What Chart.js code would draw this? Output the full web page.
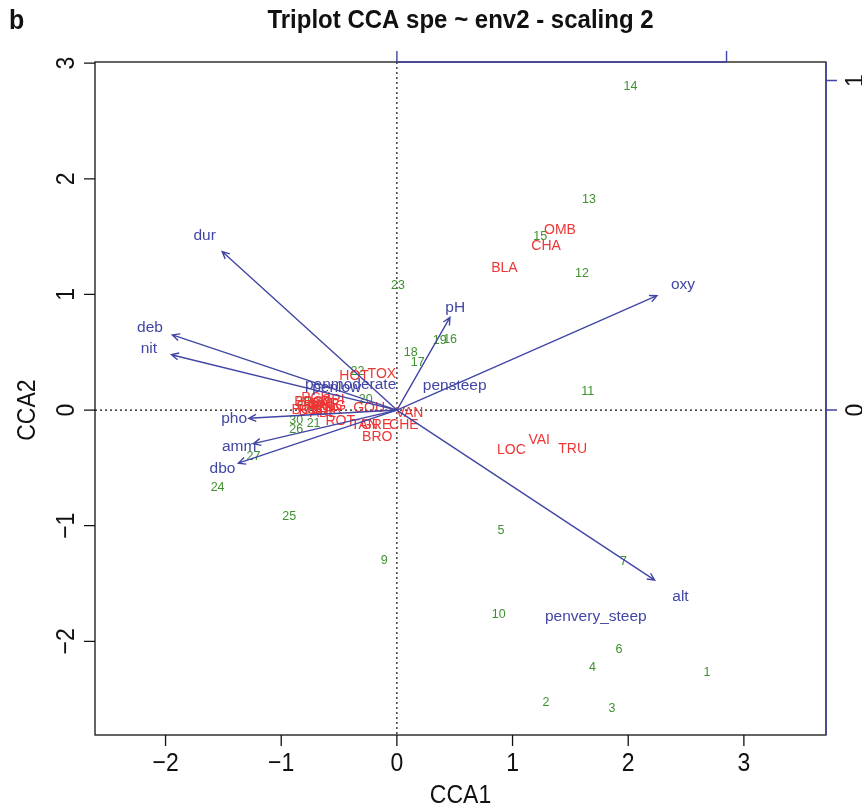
<!DOCTYPE html>
<html>
<head>
<meta charset="utf-8">
<script src="https://cdn.jsdelivr.net/npm/chart.js@4/dist/chart.umd.min.js"></script>
<style>
  html, body { margin: 0; padding: 0; background: #fff; }
  #wrap { width: 862px; height: 812px; position: relative; }
</style>
</head>
<body>
<div id="wrap"><canvas id="cca"></canvas></div>
<script>
// ------- Data read off the triplot -------
// sites (CCA1, CCA2) — site 8 is not in the data set
const siteNames = ['1','2','3','4','5','6','7','9','10','11','12','13','14','15','16',
                   '17','18','19','20','21','22','23','24','25','26','27','28','29','30'];
const siteX = [2.68, 1.29, 1.86, 1.69, 0.90, 1.92, 1.96, -0.11, 0.88, 1.65, 1.60, 1.66, 2.02, 1.24, 0.46,
               0.18, 0.12, 0.37, -0.27, -0.72, -0.34, 0.01, -1.55, -0.93, -0.87, -1.24, -0.81, -0.70, -0.87];
const siteY = [-2.27, -2.53, -2.58, -2.23, -1.04, -2.07, -1.31, -1.30, -1.77, 0.16, 1.18, 1.82, 2.80, 1.50, 0.61,
               0.41, 0.50, 0.60, 0.09, -0.12, 0.33, 1.08, -0.67, -0.92, -0.17, -0.40, 0.07, 0.04, -0.09];

// species
const speciesNames = ['CHA','TRU','VAI','LOC','OMB','BLA','HOT','TOX','VAN','CHE','BAR','SPI','GOU','BRO',
                      'PER','BOU','PSO','ROT','CAR','TAN','BCO','PCH','GRE','GAR','BBO','ABL','ANG'];
const speciesX = [1.29, 1.52, 1.23, 0.99, 1.41, 0.93, -0.37, -0.13, 0.11, 0.06, -0.62, -0.55, -0.24, -0.17,
                  -0.66, -0.72, -0.68, -0.49, -0.74, -0.28, -0.78, -0.70, -0.18, -0.60, -0.76, -0.64, -0.57];
const speciesY = [1.42, -0.34, -0.26, -0.35, 1.56, 1.23, 0.29, 0.31, -0.03, -0.13, 0.05, 0.09, 0.02, -0.23,
                  0.02, -0.01, 0.06, -0.10, 0.03, -0.13, 0.00, 0.10, -0.13, 0.00, 0.07, -0.03, 0.03];

// factor centroids (pen)
const centroidNames = ['penlow','penmoderate','pensteep','penvery_steep'];
const centroidX = [-0.52, -0.40, 0.50, 1.72];
const centroidY = [0.19, 0.22, 0.21, -1.79];

// biplot arrows, in the units of the top / right axes
const envNames = ['dur','deb','nit','pho','amm','dbo','oxy','pH','alt'];
const envX = [-0.530, -0.681, -0.684, -0.449, -0.435, -0.481, 0.789, 0.161, 0.782];
const envY = [0.481, 0.228, 0.168, -0.025, -0.102, -0.161, 0.347, 0.281, -0.516];

const xTicks = [-2, -1, 0, 1, 2, 3];
const yTicks = [-2, -1, 0, 1, 2, 3];
const arrowTicks = [0, 1];

// ------- Settings -------
const xLim = [-2.61, 3.71];
const yLim = [-2.81, 3.01];
const arrowMult = 2.85;   // arrow scale vs. site scale
const labelMult = 1.1;    // env labels sit a bit past the arrow tip

const GREEN = '#3f9130';
const RED = '#ee3535';
const BLUE = '#4146a4';
const FONT = '"Liberation Sans", Arial, sans-serif';

function pts(xs, ys) { return xs.map((x, i) => ({ x, y: ys[i] })); }
function minus(v) { return String(v).replace('-', '\u2212'); }

function stretchedText(ctx, txt, x, y, rot, sy) {
    ctx.save();
    ctx.translate(x, y);
    if (rot) ctx.rotate(rot);
    ctx.scale(1, sy || 1);
    ctx.fillText(txt, 0, 0);
    ctx.restore();
}

function drawArrow(ctx, x0, y0, x1, y1) {
    const a = Math.atan2(y1 - y0, x1 - x0);
    const len = 8, spread = Math.PI / 7;
    ctx.beginPath();
    ctx.moveTo(x0, y0);
    ctx.lineTo(x1, y1);
    ctx.moveTo(x1 - len * Math.cos(a - spread), y1 - len * Math.sin(a - spread));
    ctx.lineTo(x1, y1);
    ctx.lineTo(x1 - len * Math.cos(a + spread), y1 - len * Math.sin(a + spread));
    ctx.stroke();
}

const triplot = {
    id: 'triplot',
    beforeDatasetsDraw(chart) {
        const { ctx, chartArea: a, scales } = chart;
        const x0 = scales.x.getPixelForValue(0), y0 = scales.y.getPixelForValue(0);
        ctx.save();
        ctx.strokeStyle = '#111';
        ctx.lineWidth = 1.2;
        ctx.setLineDash([2, 3]);
        ctx.beginPath();
        ctx.moveTo(x0, a.top); ctx.lineTo(x0, a.bottom);
        ctx.moveTo(a.left, y0); ctx.lineTo(a.right, y0);
        ctx.stroke();
        ctx.restore();
    },
    afterDatasetsDraw(chart) {
        const { ctx, scales } = chart;
        ctx.save();
        ctx.textAlign = 'center';
        ctx.textBaseline = 'middle';
        chart.data.datasets.forEach((ds, i) => {
            const meta = chart.getDatasetMeta(i);
            if (ds.kind === 'arrow') {
                const ox = scales.x2.getPixelForValue(0), oy = scales.y2.getPixelForValue(0);
                ctx.strokeStyle = ds.color;
                ctx.lineWidth = 1.4;
                meta.data.forEach(p => drawArrow(ctx, ox, oy, p.x, p.y));
                ctx.fillStyle = ds.color;
                ctx.font = ds.fontSize + 'px ' + FONT;
                ds.data.forEach((d, j) => {
                    ctx.fillText(ds.labels[j],
                        scales.x2.getPixelForValue(d.x * labelMult),
                        scales.y2.getPixelForValue(d.y * labelMult));
                });
            } else {
                ctx.fillStyle = ds.color;
                ctx.font = ds.fontSize + 'px ' + FONT;
                meta.data.forEach((p, j) => ctx.fillText(ds.labels[j], p.x, p.y));
            }
        });
        ctx.restore();
    },
    afterDraw(chart) {
        const { ctx, chartArea: a, scales } = chart;
        ctx.save();
        // box
        ctx.strokeStyle = '#111';
        ctx.lineWidth = 1.3;
        ctx.strokeRect(a.left, a.top, a.right - a.left, a.bottom - a.top);

        // bottom + left axes
        ctx.fillStyle = '#111';
        ctx.font = '23px ' + FONT;
        ctx.textAlign = 'center';
        ctx.textBaseline = 'middle';
        ctx.beginPath();
        xTicks.forEach(t => {
            const px = scales.x.getPixelForValue(t);
            ctx.moveTo(px, a.bottom); ctx.lineTo(px, a.bottom + 11);
            stretchedText(ctx, minus(t), px, a.bottom + 29, 0, 1.15);
        });
        yTicks.forEach(t => {
            const py = scales.y.getPixelForValue(t);
            ctx.moveTo(a.left, py); ctx.lineTo(a.left - 11, py);
            stretchedText(ctx, minus(t), a.left - 28, py, -Math.PI / 2, 1.15);
        });
        ctx.stroke();
        stretchedText(ctx, 'CCA1', (a.left + a.right) / 2, a.bottom + 61, 0, 1.15);
        stretchedText(ctx, 'CCA2', 28, scales.y.getPixelForValue(0), -Math.PI / 2, 1.15);

        // top + right axes (arrow scale)
        ctx.strokeStyle = BLUE;
        ctx.lineWidth = 1.4;
        ctx.beginPath();
        ctx.moveTo(a.right, a.top); ctx.lineTo(a.right, a.bottom);
        const tx0 = scales.x2.getPixelForValue(arrowTicks[0]);
        const tx1 = scales.x2.getPixelForValue(arrowTicks[arrowTicks.length - 1]);
        ctx.moveTo(tx0, a.top); ctx.lineTo(tx1, a.top);
        arrowTicks.forEach(t => {
            const px = scales.x2.getPixelForValue(t);
            ctx.moveTo(px, a.top); ctx.lineTo(px, a.top - 11);
            const py = scales.y2.getPixelForValue(t);
            ctx.moveTo(a.right, py); ctx.lineTo(a.right + 11, py);
        });
        ctx.stroke();
        ctx.fillStyle = '#111';
        arrowTicks.forEach(t => {
            stretchedText(ctx, minus(t), a.right + 30, scales.y2.getPixelForValue(t), -Math.PI / 2, 1.15);
        });

        // title
        ctx.font = 'bold 24px ' + FONT;
        stretchedText(ctx, 'Triplot CCA spe ~ env2 - scaling 2', (a.left + a.right) / 2, 21, 0, 1.05);
        ctx.textAlign = 'left';
        ctx.font = 'bold 25px ' + FONT;
        stretchedText(ctx, 'b', 9, 21, 0, 1.1);
        ctx.restore();
    }
};

function fixed(size) {
    return s => { if (s.isHorizontal()) s.height = size; else s.width = size; };
}
function hiddenScale(pos, min, max, size) {
    return {
        type: 'linear', position: pos, min, max,
        grid: { display: false }, border: { display: false },
        ticks: { display: false },
        afterFit: fixed(size)
    };
}

new Chart(document.getElementById('cca'), {
    type: 'scatter',
    data: {
        datasets: [
            { kind: 'text', data: pts(siteX, siteY), labels: siteNames, color: GREEN, fontSize: 12.5,
              xAxisID: 'x', yAxisID: 'y', pointRadius: 0 },
            { kind: 'text', data: pts(speciesX, speciesY), labels: speciesNames, color: RED, fontSize: 14,
              xAxisID: 'x', yAxisID: 'y', pointRadius: 0 },
            { kind: 'arrow', data: pts(envX, envY), labels: envNames, color: BLUE, fontSize: 15.5,
              xAxisID: 'x2', yAxisID: 'y2', pointRadius: 0 },
            { kind: 'text', data: pts(centroidX, centroidY), labels: centroidNames, color: BLUE, fontSize: 15.5,
              xAxisID: 'x', yAxisID: 'y', pointRadius: 0 }
        ]
    },
    options: {
        responsive: true,
        maintainAspectRatio: false,
        animation: false,
        events: [],
        layout: { padding: 0 },
        plugins: { legend: { display: false }, tooltip: { enabled: false }, title: { display: false } },
        scales: {
            x: hiddenScale('bottom', xLim[0], xLim[1], 77),
            y: hiddenScale('left', yLim[0], yLim[1], 95),
            x2: hiddenScale('top', xLim[0] / arrowMult, xLim[1] / arrowMult, 62),
            y2: hiddenScale('right', yLim[0] / arrowMult, yLim[1] / arrowMult, 36)
        }
    },
    plugins: [triplot]
});
</script>
</body>
</html>
